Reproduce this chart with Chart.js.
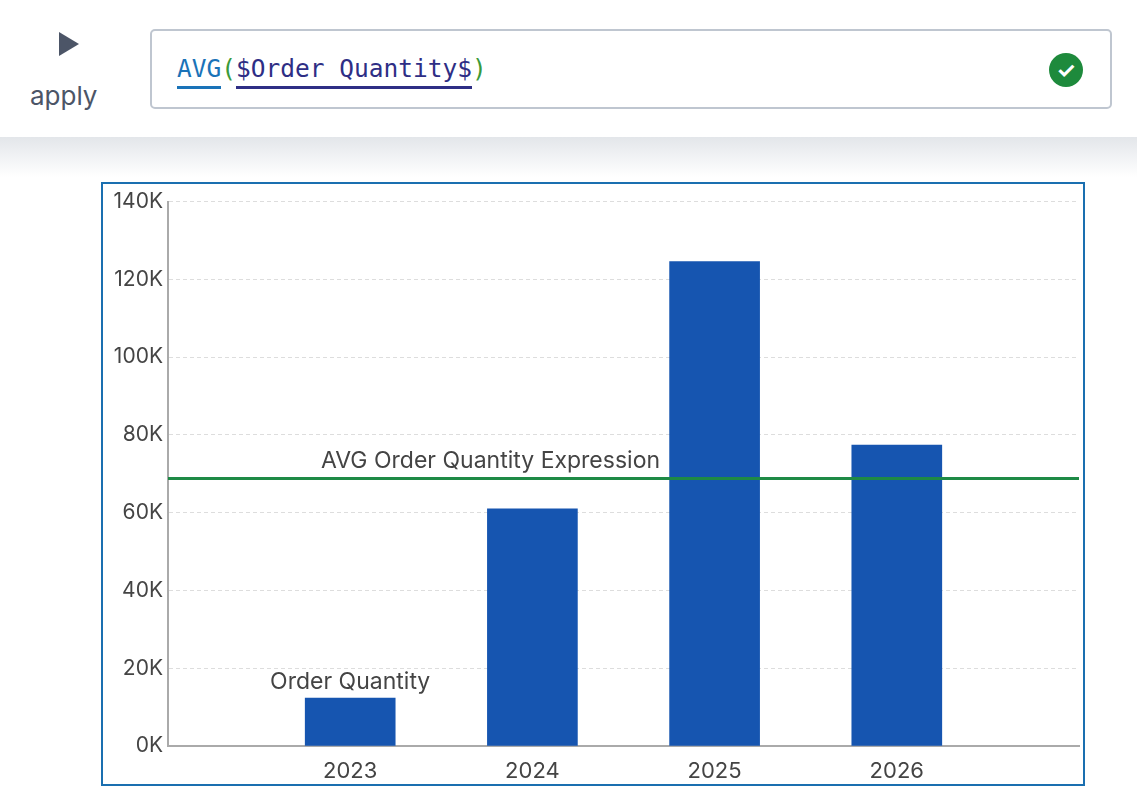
<!DOCTYPE html>
<html><head><meta charset="utf-8">
<script src="https://cdn.jsdelivr.net/npm/chart.js@4"></script>
<style>
body{margin:0;width:1137px;height:808px;background:#fff;font-family:Inter,"Noto Sans",sans-serif;overflow:hidden;position:relative}
.head{position:absolute;left:0;top:0;width:1137px;height:137px;background:#fff}
.shade{position:absolute;left:0;top:137px;width:1137px;height:40px;background:linear-gradient(#e3e6ea,#fff)}
.tri{position:absolute;left:59px;top:32px;width:0;height:0;border-top:12px solid transparent;border-bottom:12px solid transparent;border-left:20px solid #4c5567}
.apply{position:absolute;left:30px;top:80px;font-size:26px;color:#4c5567}
.box{position:absolute;left:150px;top:29px;width:958px;height:76px;border:2px solid #bfc6d0;border-radius:5px}
.expr{position:absolute;left:25px;top:23px;font-family:"DejaVu Sans Mono","Liberation Mono",monospace;font-size:24.5px;color:#2e2e85}
.expr .f{color:#1a73b8;border-bottom:3px solid #1a73b8;padding-bottom:3px}
.expr .p{color:#3a9a3a}
.expr .v{border-bottom:3px solid #2e2e85;padding-bottom:3px}
.ok{position:absolute;left:897px;top:22px;width:34px;height:34px;border-radius:50%;background:#1e8a3c;color:#fff;font-size:22px;text-align:center;line-height:34px;font-weight:bold}
.frame{position:absolute;left:101px;top:182px;width:980px;height:600px;border:2px solid #1a6fb0}
</style></head><body>
<div class="head"><div class="tri"></div><div class="apply">apply</div>
<div class="box"><div class="expr"><span class="f">AVG</span><span class="p">(</span><span class="v">$Order Quantity$</span><span class="p">)</span></div><div class="ok">✓</div></div></div>
<div class="shade"></div>
<div class="frame"><canvas id="c" width="980" height="600"></canvas></div>
<script>
const years = ["", "2023", "2024", "2025", "2026", ""]
const orderQty = [null, 12300, 61000, 124600, 77400, null]
const avgQty = 68800
const yTicks = [0, 20000, 40000, 60000, 80000, 100000, 120000, 140000]

const labelPlugin = {
 id: "labels",
 afterDatasetsDraw(chart) {
  const ctx = chart.ctx, x = chart.scales.x, y = chart.scales.y
  const yy = y.getPixelForValue(avgQty)
  ctx.save()
  ctx.strokeStyle = "#1e8a46"
  ctx.lineWidth = 3
  ctx.beginPath()
  ctx.moveTo(chart.chartArea.left, yy)
  ctx.lineTo(chart.chartArea.right, yy)
  ctx.stroke()
  ctx.fillStyle = "#444"
  ctx.font = "23px Inter, 'Noto Sans', sans-serif"
  ctx.textAlign = "center"
  ctx.textBaseline = "bottom"
  ctx.fillText("AVG Order Quantity Expression", x.getPixelForValue(1.77), yy - 6)
  ctx.fillText("Order Quantity", x.getPixelForValue(1), y.getPixelForValue(orderQty[1]) - 5)
  ctx.restore()
 }
}

new Chart(document.getElementById("c"), {
 type: "bar",
 data: {
  labels: years,
  datasets: [{ data: orderQty, backgroundColor: "#1655b0", barThickness: 90 }]
 },
 plugins: [labelPlugin],
 options: {
  responsive: false,
  animation: false,
  layout: { padding: { top: 16, right: 3 } },
  plugins: { legend: { display: false }, tooltip: { enabled: false } },
  scales: {
   x: {
    offset: false,
    grid: { display: false },
    border: { color: "#aaa", width: 2 },
    ticks: { color: "#444", font: { size: 22, family: "Inter" }, maxRotation: 0, padding: 4 },
    afterFit(s) { s.height = 38 }
   },
   y: {
    min: 0, max: 140000,
    afterBuildTicks(s) { s.ticks = yTicks.map(v => ({ value: v })) },
    grid: { color: "#ddd", tickLength: 0 },
    border: { color: "#aaa", width: 2, dash: [4, 3] },
    ticks: { color: "#444", font: { size: 21, family: "Inter" }, padding: 5, callback: v => v / 1000 + "K" },
    afterFit(s) { s.width = 65 }
   }
  }
 }
})
</script>
</body></html>
